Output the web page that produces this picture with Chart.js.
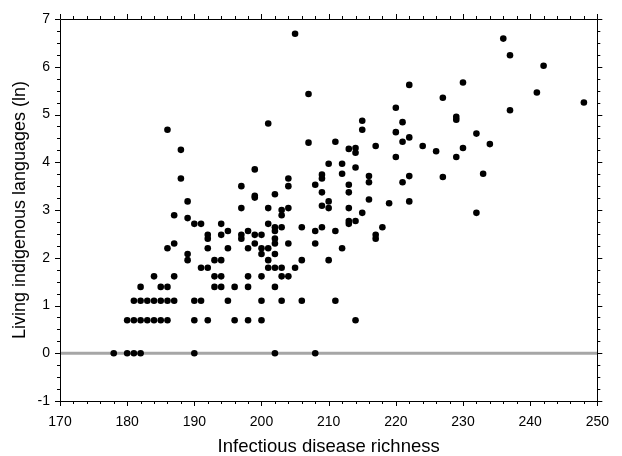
<!DOCTYPE html>
<html>
<head>
<meta charset="utf-8">
<script src="https://cdn.jsdelivr.net/npm/chart.js@4.4.1/dist/chart.umd.min.js"></script>
<style>
  html, body { margin: 0; padding: 0; background: #fff; }
  #wrap { width: 622px; height: 456px; }
</style>
</head>
<body>
<div id="wrap"><canvas id="myChart" width="622" height="456"></canvas></div>
<script>
// infectious disease richness (x) vs living indigenous languages, ln (y)
var richness = [
  178, 180, 181, 182, 190, 202, 208,
  180, 181, 182, 183, 184, 185, 186, 190, 192, 196, 198, 200, 214,
  181, 182, 183, 184, 185, 186, 187, 190, 191, 195, 200, 203, 206, 211,
  182, 185, 186, 193, 194, 196, 198, 202,
  184, 187, 193, 194, 198, 200, 203, 204,
  191, 192, 201, 202, 203, 205,
  189, 193, 194, 201, 206, 210,
  189, 200, 202,
  186, 192, 195, 198, 200, 201, 212,
  187, 199, 202, 204, 208,
  192, 197, 202, 217,
  192, 194, 197, 199, 200, 217,
  195, 198, 202, 208, 211,
  202, 203, 206, 209, 218,
  190, 191, 194, 201, 213,
  213, 214,
  189, 187, 203,
  215, 232,
  203,
  197, 201, 204, 210, 213,
  209, 219,
  189, 210, 222,
  216,
  199, 199, 202,
  209, 213,
  204, 197, 208, 213,
  216, 221,
  188, 204, 209,
  227, 216, 222, 209, 212, 233,
  199, 214, 210, 212,
  220, 229,
  188, 214, 214, 213, 226, 230,
  217, 224, 234, 207, 211, 221,
  222, 232, 220, 186, 215,
  201, 221, 215, 229, 229,
  237, 220, 248, 227, 207, 241, 222, 230,
  242, 237, 236, 205
];
var languages = [
  0, 0, 0, 0, 0, 0, 0,
  0.69, 0.69, 0.69, 0.69, 0.69, 0.69, 0.69, 0.69, 0.69, 0.69, 0.69, 0.69, 0.69,
  1.10, 1.10, 1.10, 1.10, 1.10, 1.10, 1.10, 1.10, 1.10, 1.10, 1.10, 1.10, 1.10, 1.10,
  1.39, 1.39, 1.39, 1.39, 1.39, 1.39, 1.39, 1.39,
  1.61, 1.61, 1.61, 1.61, 1.61, 1.61, 1.61, 1.61,
  1.79, 1.79, 1.79, 1.79, 1.79, 1.79,
  1.95, 1.95, 1.95, 1.95, 1.95, 1.95,
  2.08, 2.08, 2.08,
  2.20, 2.20, 2.20, 2.20, 2.20, 2.20, 2.20,
  2.30, 2.30, 2.30, 2.30, 2.30,
  2.40, 2.40, 2.40, 2.40,
  2.48, 2.48, 2.48, 2.48, 2.48, 2.48,
  2.56, 2.56, 2.56, 2.56, 2.56,
  2.64, 2.64, 2.64, 2.64, 2.64,
  2.71, 2.71, 2.71, 2.71, 2.71,
  2.77, 2.77,
  2.83, 2.89, 2.89,
  2.94, 2.94,
  3.00,
  3.04, 3.04, 3.04, 3.04, 3.04,
  3.09, 3.14,
  3.18, 3.18, 3.18,
  3.22,
  3.30, 3.26, 3.33,
  3.37, 3.37,
  3.50, 3.50, 3.53, 3.53,
  3.58, 3.58,
  3.66, 3.66, 3.66,
  3.69, 3.71, 3.71, 3.74, 3.76, 3.76,
  3.85, 3.89, 3.97, 3.97,
  4.11, 4.11,
  4.26, 4.20, 4.30, 4.28, 4.23, 4.30,
  4.34, 4.34, 4.38, 4.41, 4.43, 4.43,
  4.52, 4.60, 4.63, 4.68, 4.68,
  4.81, 4.84, 4.87, 4.89, 4.95,
  5.09, 5.14, 5.25, 5.35, 5.43, 5.46, 5.62, 5.67,
  6.02, 6.24, 6.59, 6.69
];
var xTicks = [170, 180, 190, 200, 210, 220, 230, 240, 250];
var yTicks = [-1, 0, 1, 2, 3, 4, 5, 6, 7];

var points = richness.map(function (x, i) { return { x: x, y: languages[i] }; });

// frame with outward major/minor ticks on all four sides
var framePlugin = {
  id: 'frame',
  afterDatasetsDraw: function (chart) {
    var c = chart.ctx, a = chart.chartArea;
    var xs = chart.scales.x, ys = chart.scales.y;
    c.save();
    c.strokeStyle = '#000';
    c.lineWidth = 1;
    c.beginPath();
    c.rect(Math.round(a.left) + 0.5, Math.round(a.top) + 0.5, Math.round(a.right - a.left), Math.round(a.bottom - a.top));
    c.stroke();
    c.beginPath();
    for (var v = 170; v <= 250; v += 2) {
      var px = Math.round(xs.getPixelForValue(v)) + 0.5;
      var len = (v % 10 === 0) ? 5 : 3;
      c.moveTo(px, a.bottom); c.lineTo(px, a.bottom + len);
      c.moveTo(px, a.top); c.lineTo(px, a.top - len);
    }
    for (var k = -4; k <= 28; k++) {
      var py = Math.round(ys.getPixelForValue(k / 4)) + 0.5;
      var l2 = (k % 4 === 0) ? 5 : 3;
      c.moveTo(a.left, py); c.lineTo(a.left - l2, py);
      c.moveTo(a.right, py); c.lineTo(a.right + l2, py);
    }
    c.stroke();
    c.restore();
  }
};

var ctx = document.getElementById('myChart');
var myChart = new Chart(ctx, {
  type: 'scatter',
  data: {
    datasets: [
      {
        label: 'countries',
        data: points,
        backgroundColor: '#000',
        borderColor: '#000',
        pointRadius: 3.3,
        borderWidth: 0,
        order: 1
      },
      {
        type: 'line',
        label: 'zero',
        data: [{ x: 170, y: 0 }, { x: 250, y: 0 }],
        borderColor: '#a6a6a6',
        borderWidth: 3,
        pointRadius: 0,
        order: 2
      }
    ]
  },
  plugins: [framePlugin],
  options: {
    responsive: false,
    animation: false,
    layout: { padding: { top: 19, right: 20, left: 0, bottom: 0 } },
    plugins: { legend: { display: false }, tooltip: { enabled: false } },
    scales: {
      x: {
        type: 'linear',
        min: 170, max: 250,
        afterBuildTicks: function (s) { s.ticks = xTicks.map(function (v) { return { value: v }; }); },
        afterFit: function (s) { s.height = 55; },
        grid: { display: false, drawTicks: false },
        border: { display: false },
        ticks: { color: '#000', padding: 13, font: { family: 'Liberation Sans', size: 14 } },
        title: { display: true, text: 'Infectious disease richness', color: '#000', padding: { top: 4, bottom: -2 }, font: { family: 'Liberation Sans', size: 18.5 } }
      },
      y: {
        type: 'linear',
        min: -1, max: 7,
        afterBuildTicks: function (s) { s.ticks = yTicks.map(function (v) { return { value: v }; }); },
        afterFit: function (s) { s.width = 60; },
        grid: { display: false, drawTicks: false },
        border: { display: false },
        ticks: { color: '#000', padding: 10, font: { family: 'Liberation Sans', size: 14 } },
        title: { display: true, text: 'Living indigenous languages (ln)', color: '#000', padding: { top: 9, bottom: 0 }, font: { family: 'Liberation Sans', size: 18 } }
      }
    }
  }
});
</script>
</body>
</html>
